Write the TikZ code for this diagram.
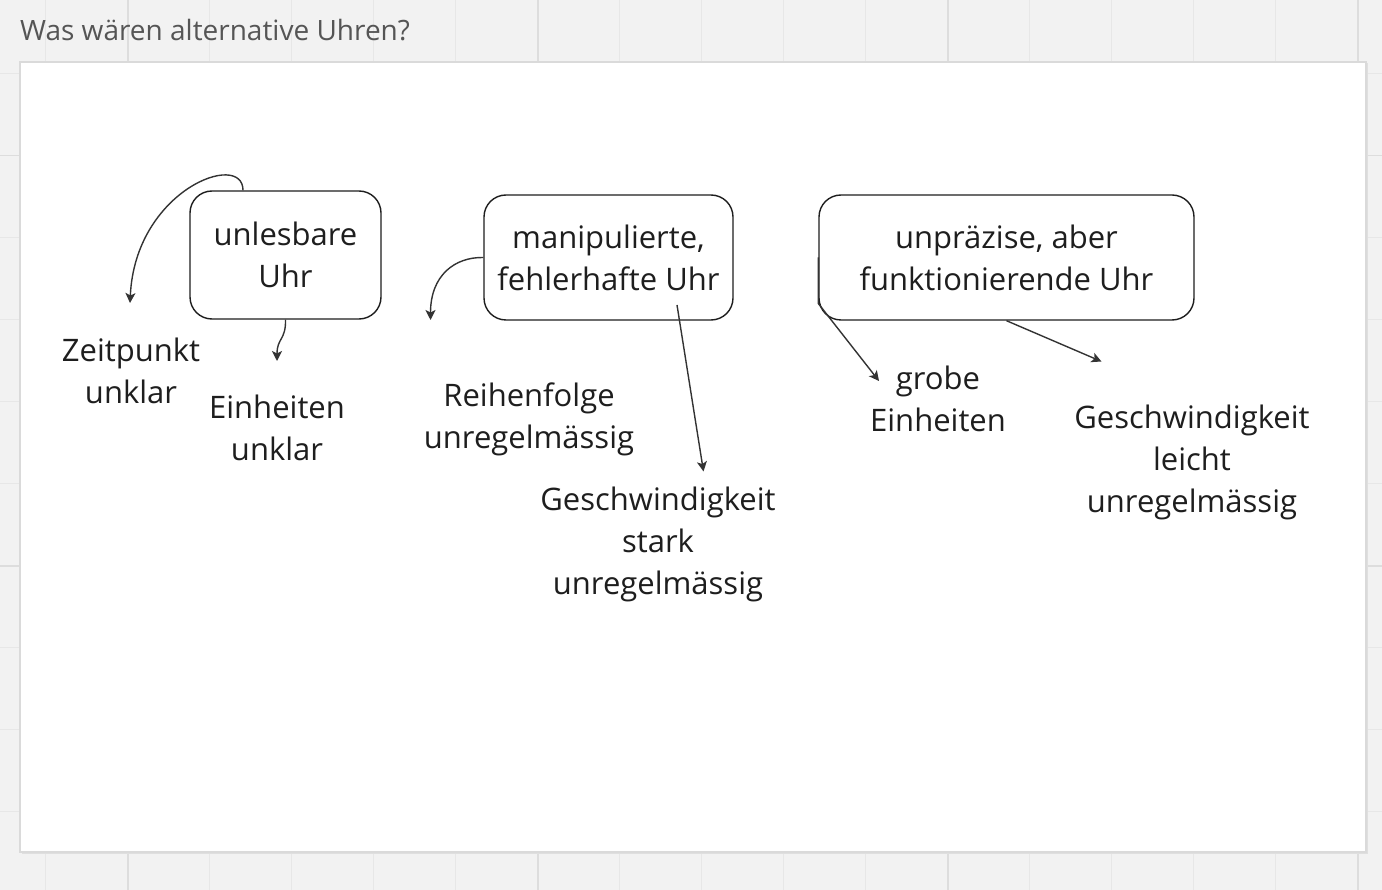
\documentclass[tikz,border=0pt]{standalone}
\usepackage{fontspec}
\setmainfont{Open Sans}
\usetikzlibrary{arrows.meta}
\definecolor{boardgray}{HTML}{F2F2F2}
\definecolor{gridgray}{HTML}{E7E7E7}
\definecolor{majorgray}{HTML}{DDDDDD}
\definecolor{framegray}{HTML}{DADADA}
\definecolor{titlegray}{HTML}{555555}
\definecolor{inkgray}{HTML}{1E1E1E}
\definecolor{linegray}{HTML}{333333}
\tikzstyle{clock} = [rectangle, rounded corners=22pt, draw=inkgray, line width=1.4pt, fill=white, text=inkgray, align=center, font=\fontsize{31}{42}\selectfont, inner sep=0pt]
\tikzstyle{effect} = [text=inkgray, align=center, font=\fontsize{31}{42}\selectfont, inner sep=0pt]
\tikzstyle{arrow} = [line width=1.4pt, draw=linegray, -{Stealth[length=10pt,width=10pt,inset=2.5pt]}]

\begin{document}
\begin{tikzpicture}[x=1pt,y=-1pt]
            \useasboundingbox (0,0) rectangle (1382,890);
            \fill [boardgray] (0,0) rectangle (1382,890);
            \foreach \gx in {0,...,16} \draw [gridgray, line width=1pt] (45.8+82*\gx,0) -- ++(0,890);
            \foreach \gy in {0,...,9} \draw [gridgray, line width=1pt] (0,73.8+82*\gy) -- ++(1382,0);
            \foreach \gx in {127.8,537.8,947.8,1357.8} \draw [majorgray, line width=1.4pt] (\gx,0) -- ++(0,890);
            \foreach \gy in {155.8,565.8} \draw [majorgray, line width=1.4pt] (0,\gy) -- ++(1382,0);
            \fill [gray!25] (21.5,63.5) rectangle (1367.5,853.5);
            \draw [framegray, fill=white, line width=1.2pt] (20,62) rectangle (1366,852);

            \node [anchor=base west, text=titlegray, font=\fontsize{28}{32}\selectfont, inner sep=0pt] at (20,41) (title) {Was wären alternative Uhren?};

            \node [clock, minimum width=191pt, minimum height=128pt] at (285.5,255) (unlesbar) {unlesbare\\Uhr};
            \node [clock, minimum width=249pt, minimum height=125pt] at (608.5,257.5) (manipuliert) {manipulierte,\\fehlerhafte Uhr};
            \node [clock, minimum width=375pt, minimum height=125pt] at (1006.5,257.5) (unpraezise) {unpräzise, aber\\funktionierende Uhr};

            \node [effect] at (131,370.5) (zeitpunkt) {Zeitpunkt\\unklar};
            \node [effect] at (277,427.5) (einheiten) {Einheiten\\unklar};
            \node [effect] at (529,419) (reihenfolge) {Reihenfolge\\unregelmässig};
            \node [effect] at (658,544) (tempostark) {Geschwindigkeit\\stark\\unregelmässig};
            \node [effect] at (938,398.5) (grob) {grobe\\Einheiten};
            \node [effect] at (1192,462) (tempoleicht) {Geschwindigkeit\\leicht\\unregelmässig};

            \coordinate (tipzeit) at (130,303);
            \coordinate (tipeinheiten) at (277,361);
            \coordinate (tipreihe) at (430.5,320);
            \coordinate (manipstart) at (677,305);
            \coordinate (tipstark) at (703.5,471.5);
            \coordinate (tipgrob) at (879,381);
            \coordinate (tipleicht) at (1101.5,361.5);

            \draw [arrow] ([xshift=-42.5pt]unlesbar.north) .. controls (243,150) and (135,190) .. (tipzeit);
            \draw [arrow] (unlesbar.south) .. controls (286,340) and (277,338) .. (tipeinheiten);
            \draw [arrow] (manipuliert.west) .. controls (455,257) and (430.5,275) .. (tipreihe);
            \draw [arrow] (manipstart) -- (tipstark);
            \draw [arrow] (unpraezise.west) -- ([yshift=-46pt]unpraezise.west) -- (tipgrob);
            \draw [arrow] (unpraezise.south) -- (tipleicht);
            \end{tikzpicture}
\end{document}
